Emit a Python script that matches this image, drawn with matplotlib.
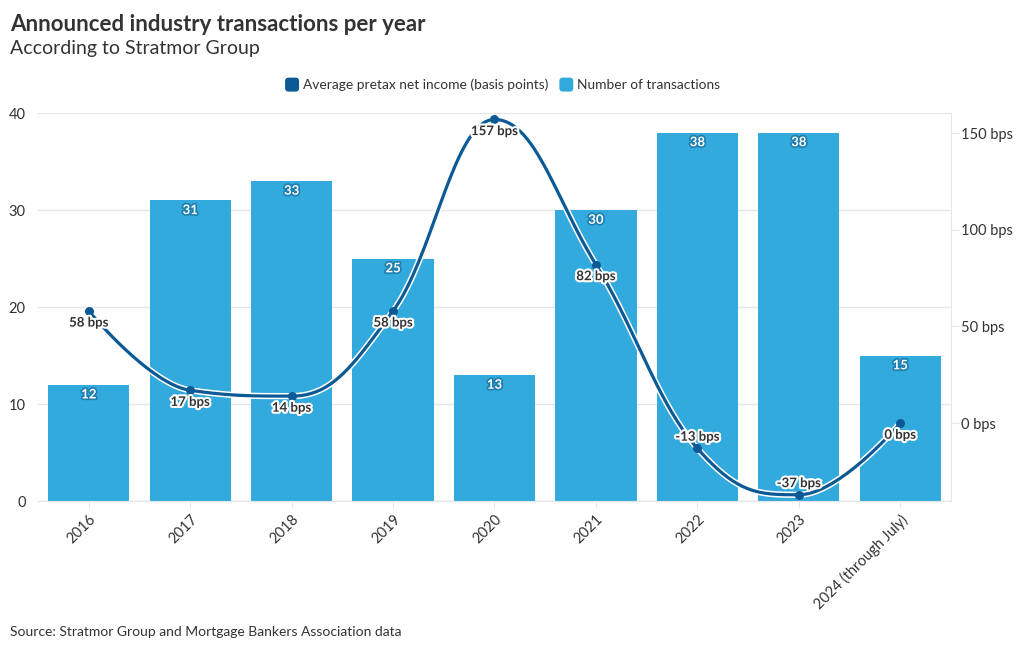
import matplotlib.pyplot as plt
import matplotlib.patheffects as pe
from matplotlib.patches import FancyBboxPatch
from matplotlib.legend_handler import HandlerPatch
import numpy as np

plt.rcParams['font.family'] = ['Lato', 'DejaVu Sans']

# data
years = ["2016", "2017", "2018", "2019", "2020", "2021", "2022", "2023", "2024 (through July)"]
transactions = [12, 31, 33, 25, 13, 30, 38, 38, 15]
income_bps = [58, 17, 14, 58, 157, 82, -13, -37, 0]

bar_color = '#33aadd'
line_color = '#0b5a96'
text_color = '#333333'


def spline_path(xs, ys, n=40):
    # Highcharts-style spline through the points
    m = len(xs)
    left = [(xs[0], ys[0])] * m
    right = [(xs[0], ys[0])] * m
    sm, den = 1.5, 2.5
    for i in range(m):
        x, y = xs[i], ys[i]
        if i == 0 or i == m - 1:
            left[i] = right[i] = (x, y)
            continue
        lx, ly = xs[i - 1], ys[i - 1]
        nx, ny = xs[i + 1], ys[i + 1]
        lcx = (sm * x + lx) / den
        lcy = (sm * y + ly) / den
        rcx = (sm * x + nx) / den
        rcy = (sm * y + ny) / den
        if rcx != lcx:
            corr = (rcy - lcy) * (rcx - x) / (rcx - lcx) + y - rcy
            lcy += corr
            rcy += corr
            if lcy > ly and lcy > y:
                lcy = max(ly, y); rcy = 2 * y - lcy
            elif lcy < ly and lcy < y:
                lcy = min(ly, y); rcy = 2 * y - lcy
            if rcy > ny and rcy > y:
                rcy = max(ny, y); lcy = 2 * y - rcy
            elif rcy < ny and rcy < y:
                rcy = min(ny, y); lcy = 2 * y - rcy
        left[i] = (lcx, lcy)
        right[i] = (rcx, rcy)
    px, py = [], []
    t = np.linspace(0, 1, n)
    for i in range(m - 1):
        p0 = np.array([xs[i], ys[i]])
        p1 = np.array(right[i])
        p2 = np.array(left[i + 1])
        p3 = np.array([xs[i + 1], ys[i + 1]])
        seg = ((1 - t) ** 3)[:, None] * p0 + (3 * (1 - t) ** 2 * t)[:, None] * p1 \
            + (3 * (1 - t) * t ** 2)[:, None] * p2 + (t ** 3)[:, None] * p3
        px.extend(seg[:, 0]); py.extend(seg[:, 1])
    return np.array(px), np.array(py)


fig = plt.figure(figsize=(10.2, 6.5), dpi=100)
ax = fig.add_axes([0.0373, 0.229, 0.895, 0.597])
ax2 = ax.twinx()

x = np.arange(len(years))
ax.bar(x, transactions, width=0.8, color=bar_color, zorder=2)
ax.set_xlim(-0.5, len(years) - 0.5)
ax.set_ylim(0, 40)
ax.set_yticks([0, 10, 20, 30, 40])
ax.yaxis.grid(True, color='#e6e6e6', linewidth=1, zorder=0)
ax.set_axisbelow(True)
for s in ['top', 'left', 'right']:
    ax.spines[s].set_visible(False)
ax.spines['bottom'].set_color('#e6e6e6')
ax.tick_params(axis='y', length=0, labelsize=10.5, labelcolor=text_color, pad=9)
ax.tick_params(axis='x', length=5, color='#e6e6e6', labelsize=10.5, labelcolor=text_color, pad=3)
ax.set_xticks(x)
ax.set_xticklabels(years, rotation=45, ha='right', rotation_mode='anchor')

for xi, v in zip(x, transactions):
    ax.text(xi, v - 1.0, str(v), ha='center', va='center', color='white', fontsize=9.5,
            fontweight='bold', zorder=4,
            path_effects=[pe.withStroke(linewidth=2.5, foreground='#1f7fb0')])

# line on right axis
ax2.set_ylim(-40.3, 160.3)
ax2.set_yticks([0, 50, 100, 150])
ax2.set_yticklabels([f"{v} bps" for v in [0, 50, 100, 150]])
for s in ['top', 'left', 'bottom']:
    ax2.spines[s].set_visible(False)
ax2.spines['right'].set_color('#e6e6e6')
ax2.tick_params(axis='y', length=6, color='#e6e6e6', labelsize=10.5, labelcolor=text_color, pad=1)

sx, sy = spline_path(list(x.astype(float)), income_bps)
ax2.plot(sx, sy, color='white', linewidth=4.5, zorder=3, solid_capstyle='round')
ax2.plot(sx, sy, color=line_color, linewidth=2.3, zorder=4, solid_capstyle='round')
ax2.scatter(x, income_bps, s=30, color=line_color, zorder=5)

for xi, v in zip(x, income_bps):
    dy = 6 if v < 0 else -6
    ax2.text(xi, v + dy, f"{v} bps", ha='center', va='center', color=text_color, fontsize=9.5,
             fontweight='bold', zorder=6,
             path_effects=[pe.withStroke(linewidth=3, foreground='white')])

# titles
fig.text(0.0098, 0.963, "Announced industry transactions per year", fontsize=16, fontweight='bold',
         color=text_color, va='center', ha='left')
fig.text(0.0098, 0.926, "According to Stratmor Group", fontsize=14, color=text_color,
         va='center', ha='left')
fig.text(0.0098, 0.027, "Source: Stratmor Group and Mortgage Bankers Association data", fontsize=10,
         color=text_color, va='center', ha='left')


class RoundHandler(HandlerPatch):
    def create_artists(self, legend, orig_handle, xdescent, ydescent, width, height, fontsize, trans):
        size = height * 1.45
        p = FancyBboxPatch((xdescent + width - size, ydescent + height / 2 - size / 2), size, size,
                           boxstyle='round,pad=0,rounding_size=%f' % (size * 0.25),
                           facecolor=orig_handle.get_facecolor(), edgecolor='none', transform=trans)
        return [p]


h1 = plt.Rectangle((0, 0), 1, 1, facecolor=line_color)
h2 = plt.Rectangle((0, 0), 1, 1, facecolor=bar_color)
fig.legend([h1, h2], ["Average pretax net income (basis points)", "Number of transactions"],
           loc='center', bbox_to_anchor=(0.493, 0.869), ncol=2, frameon=False, fontsize=9.9,
           handler_map={plt.Rectangle: RoundHandler()}, handlelength=1.0, handletextpad=0.3,
           columnspacing=0.8, labelcolor=text_color)

plt.savefig('out.png', dpi=100)
